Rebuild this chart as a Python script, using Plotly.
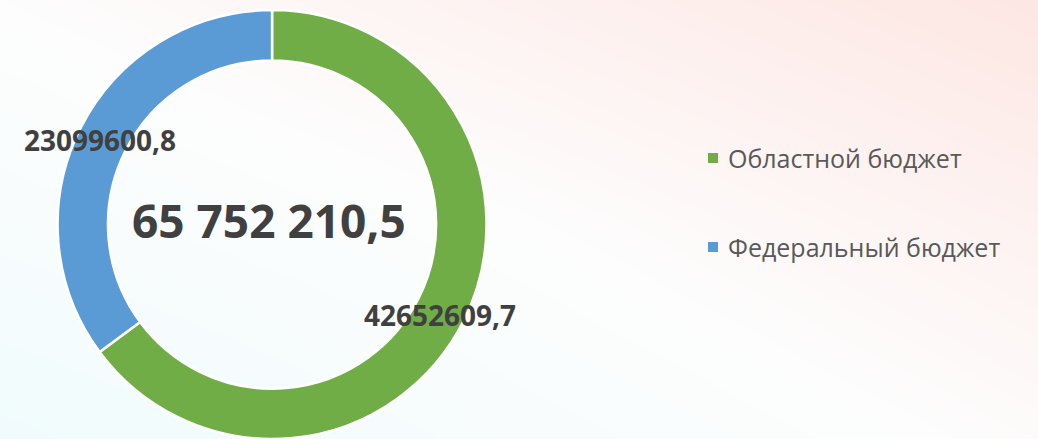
import plotly.graph_objects as go

categories = ["Областной бюджет", "Федеральный бюджет"]
values = [42652609.7, 23099600.8]
colors = ["#70AD47", "#5B9BD5"]
label_texts = ["42652609,7", "23099600,8"]

W, H = 1038, 439


def fmt_total(v):
    s = f"{v:,.1f}"
    return s.replace(",", " ").replace(".", ",")


total = sum(values)

fig = go.Figure()

# background gradient
fig.add_trace(go.Heatmap(
    x=[-0.1, 0.5, 1.1], y=[-0.1, 0.5, 1.1],
    z=[[0.0, 0.3, 0.55], [0.3, 0.5, 0.75], [0.5, 0.75, 1.0]],
    zsmooth="best", showscale=False, hoverinfo="skip",
    colorscale=[[0, "#EDFBFD"], [0.5, "#FDFDFD"], [1, "#FDE2DE"]],
    zmin=0, zmax=1,
))

fig.add_trace(go.Pie(
    labels=categories, values=values,
    marker=dict(colors=colors, line=dict(color="white", width=2.5)),
    hole=0.765, sort=False, direction="clockwise", rotation=0,
    textinfo="none", showlegend=False,
    domain=dict(x=[0.0555, 0.4687], y=[0.0, 0.977]),
))

annotations = []
label_pos = [(440, 315), (100, 140)]
for t, (px, py) in zip(label_texts, label_pos):
    annotations.append(dict(
        x=px / W, y=1 - py / H, xref="paper", yref="paper",
        text=t, showarrow=False,
        font=dict(family="Open Sans", size=28, color="#404040", weight="bold"),
        xanchor="center", yanchor="middle",
    ))

annotations.append(dict(
    x=269 / W, y=1 - 220 / H, xref="paper", yref="paper",
    text=fmt_total(total), showarrow=False,
    font=dict(family="Open Sans", size=46, color="#404040", weight="bold"),
    xanchor="center", yanchor="middle",
))

shapes = []
leg_y = [158, 247]
for cat, col, ly in zip(categories, colors, leg_y):
    shapes.append(dict(
        type="rect", xref="paper", yref="paper",
        x0=708 / W, x1=718 / W, y0=1 - (ly + 5) / H, y1=1 - (ly - 5) / H,
        fillcolor=col, line=dict(width=0),
    ))
    annotations.append(dict(
        x=726 / W, y=1 - ly / H, xref="paper", yref="paper",
        text=cat, showarrow=False,
        font=dict(family="Open Sans", size=25, color="#595959"),
        xanchor="left", yanchor="middle",
    ))

fig.update_layout(
    width=W, height=H,
    margin=dict(l=0, r=0, t=0, b=0),
    paper_bgcolor="white", plot_bgcolor="white",
    xaxis=dict(range=[0, 1], domain=[0, 1], visible=False, fixedrange=True),
    yaxis=dict(range=[0, 1], domain=[0, 1], visible=False, fixedrange=True),
    annotations=annotations, shapes=shapes,
    showlegend=False,
)

fig.write_html(
    "out.html",
    config={"displayModeBar": False},
    post_script="document.body.style.margin='0px';document.body.style.overflow='hidden';",
)
